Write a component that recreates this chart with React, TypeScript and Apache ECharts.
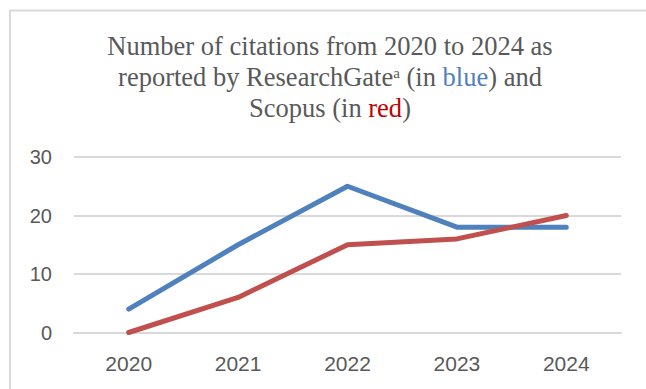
import React, { useEffect, useRef } from "react";
import * as echarts from "echarts";

const years = ["2020", "2021", "2022", "2023", "2024"];
const researchGate = [4, 15, 25, 18, 18];
const scopus = [0, 6, 15, 16, 20];
const yMin = 0;
const yMax = 30;
const yStep = 10;

export default function App() {
  const ref = useRef<HTMLDivElement>(null);
  useEffect(() => {
    document.body.style.margin = "0";
    document.body.style.overflow = "hidden";
    const chart = echarts.init(ref.current!, undefined, { renderer: "svg" });
    chart.setOption({
      animation: false,
      backgroundColor: "#ffffff",
      title: {
        left: "center",
        top: 30,
        padding: 0,
        text:
          "Number of citations from 2020 to 2024 as\nreported by ResearchGate{sup|a} (in {b|blue}) and\nScopus (in {r|red})",
        textStyle: {
          fontFamily: "Liberation Serif",
          fontSize: 26.5,
          fontWeight: "normal",
          color: "#595959",
          lineHeight: 31,
          rich: {
            sup: { fontFamily: "Liberation Serif", fontSize: 15, color: "#595959", verticalAlign: "top", lineHeight: 31, padding: [4, 0, 0, 0] },
            b: { fontFamily: "Liberation Serif", fontSize: 26.5, color: "#4F81BD", lineHeight: 31 },
            r: { fontFamily: "Liberation Serif", fontSize: 26.5, color: "#C00000", lineHeight: 31 },
          },
        },
      },
      graphic: [
        {
          type: "rect",
          shape: { x: 10, y: 10.5, width: 800, height: 500 },
          style: { fill: "none", stroke: "#D9D9D9", lineWidth: 2 },
          silent: true,
        },
      ],
      grid: { left: 74, right: 39, top: 157, bottom: 56.5, containLabel: false },
      xAxis: {
        type: "category",
        data: years,
        boundaryGap: true,
        axisLine: { show: true, lineStyle: { color: "#D9D9D9", width: 2 } },
        axisTick: { show: false },
        axisLabel: { color: "#595959", fontSize: 21, fontFamily: "Liberation Sans", margin: 20 },
      },
      yAxis: {
        type: "value",
        min: yMin,
        max: yMax,
        interval: yStep,
        axisLine: { show: false },
        axisTick: { show: false },
        splitLine: { lineStyle: { color: "#D9D9D9", width: 2 } },
        axisLabel: { color: "#595959", fontSize: 20, fontFamily: "Liberation Sans", margin: 22 },
      },
      series: [
        {
          name: "ResearchGate",
          type: "line",
          data: researchGate,
          symbol: "none",
          lineStyle: { color: "#4F81BD", width: 5, cap: "round", join: "round" },
          itemStyle: { color: "#4F81BD" },
        },
        {
          name: "Scopus",
          type: "line",
          data: scopus,
          symbol: "none",
          lineStyle: { color: "#C0504D", width: 5, cap: "round", join: "round" },
          itemStyle: { color: "#C0504D" },
        },
      ],
    });
    return () => chart.dispose();
  }, []);
  return (
    <div
      ref={ref}
      style={{ position: "absolute", left: 0, top: 0, width: 660, height: 389 }}
    />
  );
}
